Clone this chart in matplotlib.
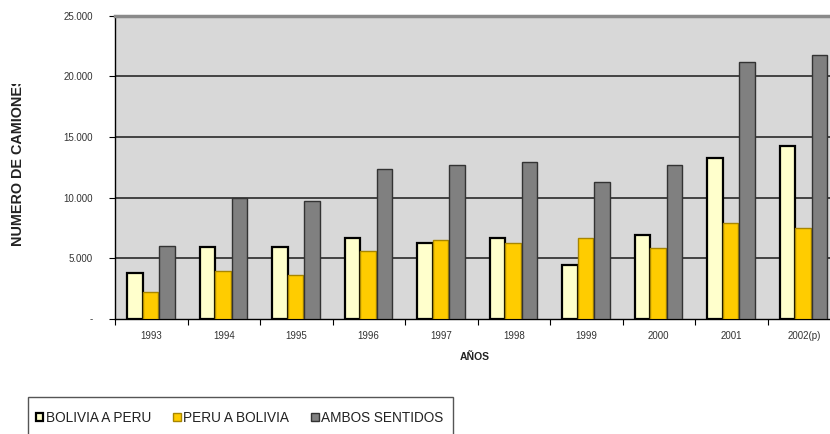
import matplotlib
matplotlib.use("Agg")
import matplotlib.pyplot as plt
from matplotlib.patches import Rectangle, Patch
import numpy as np

years = ["1993", "1994", "1995", "1996", "1997", "1998", "1999", "2000", "2001", "2002(p)"]
bolivia_a_peru = [3790, 5930, 5930, 6690, 6210, 6630, 4420, 6910, 13250, 14270]
peru_a_bolivia = [2160, 3920, 3590, 5570, 6520, 6210, 6690, 5860, 7880, 7460]
ambos_sentidos = [6010, 9920, 9670, 12350, 12710, 12940, 11310, 12690, 21200, 21800]
y_ticks = [0, 5000, 10000, 15000, 20000, 25000]
y_tick_labels = ["-", "5.000", "10.000", "15.000", "20.000", "25.000"]

plt.rcParams['font.family'] = ['Liberation Sans', 'DejaVu Sans']

W, H = 830, 434
fig = plt.figure(figsize=(W / 100, H / 100), dpi=100)
ax = fig.add_axes([115 / W, 1 - 318.5 / H, 725 / W, (318.5 - 16) / H])
ax.set_facecolor("#d8d8d8")

x = np.arange(len(years))
bw = 0.212
ax.bar(x - 0.225, bolivia_a_peru, bw, color="#ffffcc", edgecolor="#000000", linewidth=1.6, zorder=3)
ax.bar(x - 0.012, peru_a_bolivia, bw, color="#ffcc00", edgecolor="#a88600", linewidth=1.0, zorder=3)
ax.bar(x + 0.215, ambos_sentidos, bw, color="#808080", edgecolor="#333333", linewidth=1.0, zorder=3)

ax.set_xlim(-0.5, len(years) - 0.5)
ax.set_ylim(0, 25000)

# horizontal gridlines
for v in y_ticks[1:-1]:
    ax.axhline(v, color="#1a1a1a", linewidth=1.1, zorder=2)

ax.set_yticks(y_ticks)
ax.set_yticklabels(y_tick_labels, fontsize=7, color="#333333")
ax.tick_params(axis="y", direction="out", length=4, width=0.8, pad=12)

# group boundary ticks, year labels at group centres
ax.set_xticks(np.arange(len(years) + 1) - 0.5)
ax.set_xticklabels([])
ax.tick_params(axis="x", which="major", direction="out", length=4, width=0.8)
ax.set_xticks(x, minor=True)
ax.set_xticklabels(years, minor=True, fontsize=7, color="#333333")
ax.tick_params(axis="x", which="minor", length=0, pad=9)

ax.spines["left"].set_color("#000000")
ax.spines["left"].set_linewidth(1.0)
ax.spines["bottom"].set_color("#000000")
ax.spines["bottom"].set_linewidth(1.0)
ax.spines["top"].set_color("#8a8a8a")
ax.spines["top"].set_linewidth(2.5)
ax.spines["right"].set_visible(False)

fig.text(475 / W, 1 - 357 / H, "AÑOS", fontsize=7.5, fontweight="bold",
         ha="center", va="center", color="#222222")

# axis title runs past the top of its frame and is cut off there
fig.text(18 / W, 1 - 246 / H, "NUMERO DE CAMIONES", fontsize=10.4, fontweight="bold",
         rotation=90, ha="center", va="bottom", color="#222222", zorder=3)
fig.patches.append(Rectangle((0, 1 - 84 / H), 40 / W, 84 / H, transform=fig.transFigure,
                             facecolor="white", edgecolor="none", zorder=20))

# legend frame and entries
fig.patches.append(Rectangle((28 / W, -0.05), (453 - 28) / W, 1.05 - 397 / H,
                             transform=fig.transFigure, fill=False,
                             edgecolor="#555555", linewidth=1.0))
handles = [
    Patch(facecolor="#ffffcc", edgecolor="#000000", linewidth=1.6, label="BOLIVIA A PERU"),
    Patch(facecolor="#ffcc00", edgecolor="#a88600", linewidth=1.0, label="PERU A BOLIVIA"),
    Patch(facecolor="#808080", edgecolor="#333333", linewidth=1.0, label="AMBOS SENTIDOS"),
]
leg = fig.legend(handles=handles, loc="center left", bbox_to_anchor=(36 / W, 1 - 418 / H),
                 ncol=3, frameon=False, fontsize=9.8, handlelength=0.55, handleheight=0.55,
                 handletextpad=0.2, columnspacing=1.6, borderpad=0, borderaxespad=0)
for t in leg.get_texts():
    t.set_color("#222222")

fig.savefig("out.png", dpi=100)
